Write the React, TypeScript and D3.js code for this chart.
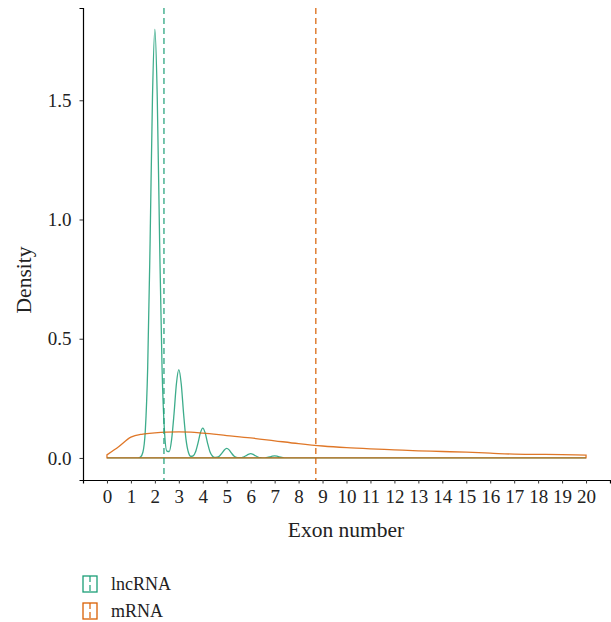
import React, { useEffect, useRef } from "react";
import * as d3 from "d3";

// density estimates: [exon number, density]
const lncRNADensity: [number, number][] = [
  [0, 0], [1.2, 0], [1.3, 0.0003], [1.4, 0.004], [1.5, 0.024], [1.6, 0.113],
  [1.7, 0.377], [1.8, 0.899], [1.9, 1.511], [2.0, 1.797], [2.1, 1.511],
  [2.2, 0.899], [2.3, 0.377], [2.4, 0.114], [2.5, 0.029], [2.6, 0.027],
  [2.7, 0.078], [2.8, 0.185], [2.9, 0.311], [3.0, 0.37], [3.1, 0.311],
  [3.2, 0.185], [3.3, 0.078], [3.4, 0.024], [3.5, 0.007], [3.6, 0.009],
  [3.7, 0.026], [3.8, 0.0625], [3.9, 0.105], [4.0, 0.125], [4.1, 0.105],
  [4.2, 0.0625], [4.3, 0.026], [4.4, 0.008], [4.5, 0.002], [4.6, 0.003],
  [4.7, 0.0084], [4.8, 0.02], [4.9, 0.0336], [5.0, 0.04], [5.1, 0.034],
  [5.2, 0.02], [5.3, 0.008], [5.4, 0.0025], [5.5, 0.001], [5.6, 0.001],
  [5.7, 0.004], [5.8, 0.009], [5.9, 0.015], [6.0, 0.018], [6.1, 0.015],
  [6.2, 0.009], [6.3, 0.004], [6.4, 0.001], [6.5, 0.0003], [6.6, 0.0006],
  [6.7, 0.002], [6.8, 0.0045], [6.9, 0.0076], [7.0, 0.009], [7.1, 0.0076],
  [7.2, 0.0045], [7.3, 0.002], [7.4, 0.0006], [7.5, 0], [20, 0],
];

const mRNADensity: [number, number][] = [
  [0, 0.013], [0.5, 0.048], [1, 0.087], [1.5, 0.1], [2, 0.105], [2.5, 0.108],
  [3, 0.109], [3.5, 0.108], [4, 0.104], [5, 0.094], [6, 0.084], [7, 0.072],
  [8, 0.06], [9, 0.05], [10, 0.043], [11, 0.038], [12, 0.034], [13, 0.03],
  [14, 0.027], [15, 0.024], [16, 0.02], [17, 0.016], [18, 0.015], [19, 0.014],
  [20, 0.012],
];

// mean exon number per group (dashed lines)
const groups = ["lncRNA", "mRNA"];
const groupMeans = [2.38, 8.72];
const groupColors = ["#1b9e77", "#d95f02"];

const xTicks = d3.range(0, 21);
const yTicks = [0, 0.5, 1.0, 1.5];

const W = 611;
const H = 622;
const FONT = "'Liberation Serif', 'DejaVu Serif', serif";

const App = () => {
  const xAxisRef = useRef<SVGGElement>(null);
  const yAxisRef = useRef<SVGGElement>(null);

  const x = d3.scaleLinear().domain([-1, 21]).range([83, 610]);
  const y = d3.scaleLinear().domain([-0.0925, 1.887]).range([480, 8]);

  const area = d3
    .area<[number, number]>()
    .x(d => x(d[0]))
    .y0(y(0))
    .y1(d => y(d[1]))
    .curve(d3.curveMonotoneX);

  useEffect(() => {
    const gx = d3.select(xAxisRef.current);
    gx.call(
      d3.axisBottom(x).tickValues(xTicks).tickSize(3.5).tickPadding(6).tickFormat(d3.format("d"))
    );
    const gy = d3.select(yAxisRef.current);
    gy.call(
      d3.axisLeft(y).tickValues(yTicks).tickSize(3.5).tickPadding(8).tickFormat(d3.format(".1f"))
    );
    [gx, gy].forEach(g => {
      g.select(".domain").attr("stroke", "#000").attr("stroke-width", 1.2);
      g.selectAll(".tick line").attr("stroke", "#333");
      g.selectAll(".tick text")
        .attr("fill", "#222")
        .style("font-family", FONT)
        .style("font-size", "19px");
      g.attr("font-family", null).attr("font-size", null);
    });
  }, []);

  return (
    <svg width={W} height={H} style={{ position: "absolute", left: 0, top: 0, background: "#fff" }}>
      <g>
        {[lncRNADensity, mRNADensity].map((data, i) => (
          <path
            key={groups[i]}
            d={area(data) || ""}
            fill="none"
            stroke={groupColors[i]}
            strokeWidth={1.3}
            strokeOpacity={0.85}
          />
        ))}
        {groupMeans.map((m, i) => (
          <line
            key={groups[i]}
            x1={x(m)}
            x2={x(m)}
            y1={y.range()[1]}
            y2={y.range()[0]}
            stroke={groupColors[i]}
            strokeWidth={1.2}
            strokeDasharray="6,4"
          />
        ))}
      </g>
      <g ref={xAxisRef} transform="translate(0,480)" />
      <g ref={yAxisRef} transform="translate(83,0)" />
      <text
        x={346}
        y={537}
        textAnchor="middle"
        fill="#222"
        style={{ fontFamily: FONT, fontSize: 21.5 }}
      >
        Exon number
      </text>
      <text
        transform="translate(31,280) rotate(-90)"
        textAnchor="middle"
        fill="#222"
        style={{ fontFamily: FONT, fontSize: 21.5 }}
      >
        Density
      </text>
      <g>
        {groups.map((g, i) => (
          <g key={g} transform={`translate(83,${576 + i * 27})`}>
            <rect width={14} height={16} fill="none" stroke={groupColors[i]} strokeWidth={1.3} />
            <line x1={7} x2={7} y1={0} y2={16} stroke={groupColors[i]} strokeWidth={1.2} strokeDasharray="6,3" />
            <text x={28} y={14} fill="#222" style={{ fontFamily: FONT, fontSize: 18 }}>
              {g}
            </text>
          </g>
        ))}
      </g>
    </svg>
  );
};

export default App;
